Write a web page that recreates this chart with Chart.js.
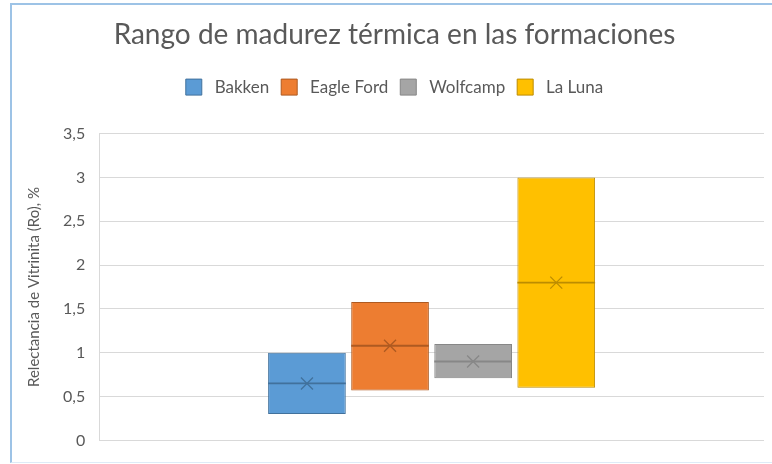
<!DOCTYPE html>
<html>
<head>
<meta charset="utf-8">
<script src="https://cdn.jsdelivr.net/npm/chart.js@4/dist/chart.umd.min.js"></script>
<style>
  html, body { margin: 0; padding: 0; background: #fff; }
  #wrap { position: relative; width: 772px; height: 464px; }
  #frame { position: absolute; left: 10px; top: 3px; right: -4px; bottom: 1px;
           border-left: 2px solid #9dc3e6; border-top: 2px solid #9dc3e6; border-bottom: 1px solid #deebf7; }
  canvas { position: absolute; left: 0; top: 0; }
</style>
</head>
<body>
<div id="wrap">
  <div id="frame"></div>
  <canvas id="c" width="772" height="464"></canvas>
</div>
<script>
// Formations and their vitrinite reflectance statistics (Ro, %)
const formations = ['Bakken', 'Eagle Ford', 'Wolfcamp', 'La Luna'];
const q1Values     = [0.30, 0.57, 0.71, 0.60];
const q3Values     = [1.00, 1.58, 1.10, 3.00];
const medianValues = [0.65, 1.08, 0.90, 1.80];
const meanValues   = [0.65, 1.08, 0.90, 1.80];
const yTickLabels  = ['0', '0,5', '1', '1,5', '2', '2,5', '3', '3,5'];

const fillColors   = ['#5b9bd5', '#ed7d31', '#a5a5a5', '#ffc000'];
const strokeColors = ['#41719c', '#ae5a21', '#878787', '#bc8c00'];

const textColor = '#595959';
const fontFamily = 'Lato, "Open Sans", sans-serif';

const datasets = formations.map((name, i) => ({
  label: name,
  data: [[q1Values[i], q3Values[i]]],
  backgroundColor: fillColors[i],
  borderColor: strokeColors[i],
  borderWidth: 1,
  borderSkipped: false,
  categoryPercentage: 0.5,
  barPercentage: 0.935
}));

// Extra space between the legend and the plot area
const legendGap = {
  id: 'legendGap',
  beforeInit(chart) {
    const fit = chart.legend.fit;
    chart.legend.fit = function () {
      fit.call(this);
      this.height += 28;
    };
  }
};

// Draws the median line and the mean cross inside each box
const boxMarks = {
  id: 'boxMarks',
  afterDatasetsDraw(chart) {
    const ctx = chart.ctx;
    const y = chart.scales.y;
    chart.data.datasets.forEach((ds, i) => {
      const meta = chart.getDatasetMeta(i);
      if (meta.hidden) return;
      meta.data.forEach(bar => {
        const half = bar.width / 2;
        const ym = y.getPixelForValue(medianValues[i]);
        const ya = y.getPixelForValue(meanValues[i]);
        ctx.save();
        ctx.strokeStyle = strokeColors[i];
        ctx.lineWidth = 1.8;
        ctx.beginPath();
        ctx.moveTo(bar.x - half, ym);
        ctx.lineTo(bar.x + half, ym);
        ctx.stroke();
        const s = 6;
        ctx.lineWidth = 1.3;
        ctx.beginPath();
        ctx.moveTo(bar.x - s, ya - s);
        ctx.lineTo(bar.x + s, ya + s);
        ctx.moveTo(bar.x + s, ya - s);
        ctx.lineTo(bar.x - s, ya + s);
        ctx.stroke();
        ctx.restore();
      });
    });
  }
};

new Chart(document.getElementById('c'), {
  type: 'bar',
  data: { labels: [''], datasets },
  plugins: [legendGap, boxMarks],
  options: {
    responsive: false,
    animation: false,
    layout: { padding: { left: 25, right: 8, top: 0, bottom: -3 } },
    plugins: {
      title: {
        display: true,
        text: 'Rango de madurez térmica en las formaciones',
        color: textColor,
        font: { family: fontFamily, size: 28, weight: 'normal' },
        padding: { top: 18, bottom: 15 }
      },
      legend: {
        display: true,
        position: 'top',
        labels: {
          color: textColor,
          font: { family: fontFamily, size: 17 },
          boxWidth: 16,
          boxHeight: 16,
          padding: 12,
          generateLabels(chart) {
            const items = Chart.defaults.plugins.legend.labels.generateLabels(chart);
            items.forEach(it => { it.text = ' ' + it.text; });
            return items;
          }
        }
      },
      tooltip: { enabled: false }
    },
    scales: {
      x: {
        grid: { display: false },
        border: { display: false },
        ticks: { display: false }
      },
      y: {
        min: 0,
        max: 3.5,
        ticks: {
          stepSize: 0.5,
          color: textColor,
          font: { family: fontFamily, size: 16 },
          padding: 14,
          callback: (v, idx) => yTickLabels[idx]
        },
        grid: { color: '#d9d9d9', lineWidth: 1, drawTicks: false },
        border: { display: true, color: '#d9d9d9' },
        title: {
          display: true,
          text: 'Relectancia de Vitrinita (Ro), %',
          color: textColor,
          font: { family: fontFamily, size: 15 },
          padding: { top: 0, bottom: 6 }
        }
      }
    }
  }
});
</script>
</body>
</html>
